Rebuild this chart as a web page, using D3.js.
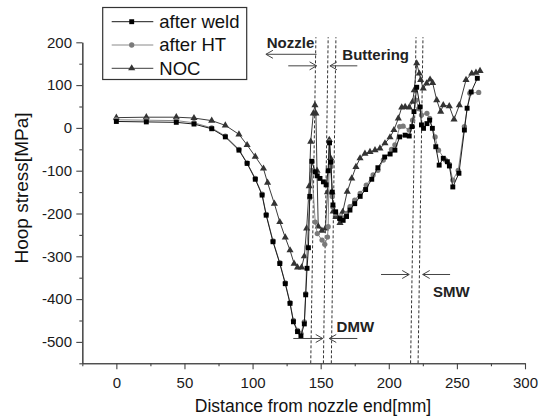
<!DOCTYPE html>
<html>
<head>
<meta charset="utf-8">
<script src="https://cdnjs.cloudflare.com/ajax/libs/d3/7.8.5/d3.min.js"></script>
<style>
body { margin: 0; background: #fff; }
text { font-family: Arial, "Liberation Sans", sans-serif; }
</style>
</head>
<body>
<div id="chart1"></div>
<script>

// [distance mm, hoop stress MPa]
var afterWeld = [[0,15],[22,14],[44,13],[57,9],[70,-2],[80,-21],[90,-52],[96,-83],[102,-120],[107,-157],[110,-204],[115,-266],[120,-317],[124,-364],[127.5,-410],[130,-453],[133,-476],[135.5,-486],[138,-458],[139,-390],[140,-328],[141,-280],[142,-160],[143.5,-78],[146,-103],[147.5,-112],[149.5,-118],[152,-126],[154,-133],[155.5,-100],[156.5,-35],[157.5,-80],[158.5,-150],[159,-180],[161,-196],[164,-212],[166.5,-216],[169,-207],[171.5,-192],[175,-177],[179,-160],[183,-144],[187.5,-120],[192,-93],[197,-68],[201,-61],[204.5,-52],[208,-21],[212,-17],[215,-19],[217,3],[218.5,38],[220.5,95],[223,49],[224,7],[225.5,-1],[228,10],[230,18],[232,-1],[234.5,-44],[237,-87],[240,-71],[243,-79],[244.5,-89],[247,-138],[251.5,-106],[255.5,-5],[257.5,46],[260.5,84],[265,116]];

var afterHT = [[0,19],[22,18],[44,17],[57,12],[70,0],[80,-19],[90,-50],[96,-82],[102,-118],[107,-155],[110,-202],[115,-264],[120,-315],[124,-362],[127.5,-408],[130,-450],[133,-473],[135.5,-480],[138,-453],[139,-387],[140,-278],[142,-164],[143.5,-99],[146,-220],[147.5,-247],[151,-262],[153,-272],[155,-255],[155.5,-231],[156.5,-32],[157.5,-90],[158.5,-160],[159,-185],[161,-200],[164,-208],[166.5,-210],[169,-200],[171.5,-184],[175,-169],[179,-153],[183.5,-134],[188.5,-110],[192,-99],[196,-75],[202,-50],[204.5,-40],[208,3],[210.5,4],[215,-5],[217.5,18],[220,65],[222,45],[224,30],[228,34],[230,22],[234,-21],[236.5,-52],[241.5,-75],[244.5,-85],[247,-122],[251,-99],[255.5,3],[259.5,81],[266,83]];

var noc = [[0,24],[22,25],[44,25],[57,23],[70,17],[80,6],[90,-15],[96,-40],[102,-67],[108,-95],[111,-128],[116,-177],[120,-220],[124,-256],[127.5,-286],[130.5,-317],[133,-326],[136,-326],[138,-300],[139.7,-235],[141.6,-136],[142.7,-32],[144.6,34],[145.8,53],[146.5,34],[147.3,-100],[148.2,-230],[150.9,-240],[153.5,-235],[155,-150],[156.3,-28],[157.2,-70],[158.3,-150],[159.2,-195],[161.2,-208],[164.2,-222],[166.2,-196],[169.5,-149],[172.8,-118],[175.9,-91],[178.9,-71],[182.5,-60],[186.2,-56],[189.9,-52],[193.5,-48],[197.2,-36],[200.9,-22],[203.8,-5],[207,22],[209.5,48],[212,49],[215,48],[217.5,61],[218.7,88],[220.5,151],[222.4,127],[223.4,112],[225.3,92],[227.8,104],[230.3,113],[232.2,105],[235.2,65],[238.1,38],[240,53],[244.4,51],[247.9,20],[251.8,53],[256.7,112],[260.9,127],[264,129],[267,133]];

var seriesNames = ["after weld", "after HT", "NOC"];

var xTicks = [0, 50, 100, 150, 200, 250, 300];
var xMinor = [-25, 25, 75, 125, 175, 225, 275];
var yTicks = [-500, -400, -300, -200, -100, 0, 100, 200];
var yMinor = [-550, -450, -350, -250, -150, -50, 50, 150];

// dashed boundary lines: x at the bottom and at the top (they lean a little)
var dashBottom = [142.7, 152, 157.8, 216, 221.5];
var dashTop = [146.5, 155.5, 161.2, 220, 225.1];

// region labels [text, x, stress]
var regionLabels = [["Nozzle", 110.4, 186], ["Buttering", 165.9, 158.5], ["DMW", 161.7, -478], ["SMW", 232.5, -396]];
// arrows [x from, stress from, x to (head), stress to]
var arrows = [[147, 172, 109.8, 172], [126.2, 145, 147, 145], [176.9, 145, 156.8, 145],
              [129.9, -492, 151.5, -492], [176.9, -492, 156.3, -492],
              [194.3, -342.5, 215, -342.5], [245, -342.5, 224.9, -342.5]];

var margin = {left: 82.3, right: 17, top: 42.3, bottom: 53.7};
var width = 542 - margin.left - margin.right;
var height = 417 - margin.top - margin.bottom;

var x = d3.scaleLinear().domain([-25, 300]).range([0, width]);
var y = d3.scaleLinear().domain([-550, 200]).range([height, 0]);

var svg = d3.select("#chart1").append("svg")
    .attr("width", 542).attr("height", 417)
    .style("background", "#fff");

var chartGroup = svg.append("g")
    .attr("transform", "translate(" + margin.left + "," + margin.top + ")");

// axes
var plain = function(d) { return String(d); };

chartGroup.append("g")
    .attr("class", "axis x")
    .attr("transform", "translate(0," + height + ")")
    .call(d3.axisBottom(x).tickValues(xMinor).tickSize(3).tickSizeOuter(0).tickFormat(""));
chartGroup.append("g")
    .attr("class", "axis x")
    .attr("transform", "translate(0," + height + ")")
    .call(d3.axisBottom(x).tickValues(xTicks).tickSize(6).tickSizeOuter(0).tickPadding(8.5).tickFormat(plain));

chartGroup.append("g")
    .attr("class", "axis y")
    .call(d3.axisLeft(y).tickValues(yMinor).tickSize(3).tickSizeOuter(0).tickFormat(""));
chartGroup.append("g")
    .attr("class", "axis y")
    .call(d3.axisLeft(y).tickValues(yTicks).tickSize(6).tickSizeOuter(0).tickPadding(4.3).tickFormat(plain));

chartGroup.selectAll(".axis path, .axis line").attr("stroke", "#444").attr("stroke-width", 1.1);
chartGroup.selectAll(".axis text")
    .style("font-size", "15px").style("font-family", "Arial, 'Liberation Sans', sans-serif")
    .attr("fill", "#1a1a1a");

// dashed boundaries
chartGroup.selectAll(".bound")
    .data(dashBottom)
    .enter().append("line")
    .attr("class", "bound")
    .attr("x1", function(d) { return x(d); })
    .attr("y1", y(-550))
    .attr("x2", function(d, i) { return x(dashTop[i]); })
    .attr("y2", y(212))
    .attr("stroke", "#333").attr("stroke-width", 1)
    .attr("stroke-dasharray", "3,2");

// series
var line = d3.line()
    .x(function(d) { return x(d[0]); })
    .y(function(d) { return y(d[1]); });

var styles = [
    {data: afterWeld, stroke: "#1a1a1a", fill: "#000", sym: d3.symbolSquare, size: 24},
    {data: afterHT, stroke: "#8a8a8a", fill: "#7a7a7a", sym: d3.symbolCircle, size: 22},
    {data: noc, stroke: "#3c3c3c", fill: "#333", sym: d3.symbolTriangle, size: 22}
];

[2, 1, 0].forEach(function(k) {
    var s = styles[k];
    chartGroup.append("path")
        .attr("d", line(s.data))
        .attr("fill", "none")
        .attr("stroke", s.stroke).attr("stroke-width", 1);
    chartGroup.selectAll(".pt" + k)
        .data(s.data)
        .enter().append("path")
        .attr("class", "pt" + k)
        .attr("transform", function(d) { return "translate(" + x(d[0]) + "," + y(d[1]) + ")"; })
        .attr("d", d3.symbol().type(s.sym).size(s.size))
        .attr("fill", s.fill);
});

// annotations
chartGroup.selectAll(".region")
    .data(regionLabels)
    .enter().append("text")
    .attr("class", "region")
    .attr("x", function(d) { return x(d[1]); })
    .attr("y", function(d) { return y(d[2]); })
    .style("font-size", "15px").style("font-weight", "bold")
    .attr("fill", "#222")
    .text(function(d) { return d[0]; });

arrows.forEach(function(a) {
    var x1 = x(a[0]), y1 = y(a[1]), x2 = x(a[2]), y2 = y(a[3]);
    var dir = x2 > x1 ? 1 : -1;
    chartGroup.append("line")
        .attr("x1", x1).attr("y1", y1).attr("x2", x2).attr("y2", y2)
        .attr("stroke", "#444").attr("stroke-width", 1);
    chartGroup.append("path")
        .attr("d", "M" + (x2 - dir * 7) + "," + (y2 - 4) + "L" + x2 + "," + y2 + "L" + (x2 - dir * 7) + "," + (y2 + 4))
        .attr("fill", "none").attr("stroke", "#444").attr("stroke-width", 1);
});

// axis titles
svg.append("text")
    .attr("text-anchor", "middle")
    .attr("x", 313).attr("y", 412)
    .style("font-size", "17.5px")
    .attr("fill", "#111")
    .text("Distance from nozzle end[mm]");
svg.append("text")
    .attr("text-anchor", "middle")
    .attr("transform", "translate(28,188) rotate(-90)")
    .style("font-size", "19px")
    .attr("fill", "#111")
    .text("Hoop stress[MPa]");

// legend
var legend = svg.append("g");
legend.append("rect")
    .attr("x", 102.7).attr("y", 7.5).attr("width", 144).attr("height", 72)
    .attr("fill", "#fff").attr("stroke", "#333").attr("stroke-width", 1.2);

seriesNames.forEach(function(name, i) {
    var s = styles[i];
    var ly = 21.7 + i * 23.3;
    legend.append("line")
        .attr("x1", 111.7).attr("x2", 153.3).attr("y1", ly).attr("y2", ly)
        .attr("stroke", s.stroke).attr("stroke-width", 1);
    legend.append("path")
        .attr("transform", "translate(131.7," + ly + ")")
        .attr("d", d3.symbol().type(s.sym).size(s.size))
        .attr("fill", s.fill);
    legend.append("text")
        .attr("x", 159.3).attr("y", ly)
        .attr("dy", "0.35em")
        .style("font-size", "18.5px")
        .attr("fill", "#111")
        .text(name);
});

</script>
</body>
</html>
